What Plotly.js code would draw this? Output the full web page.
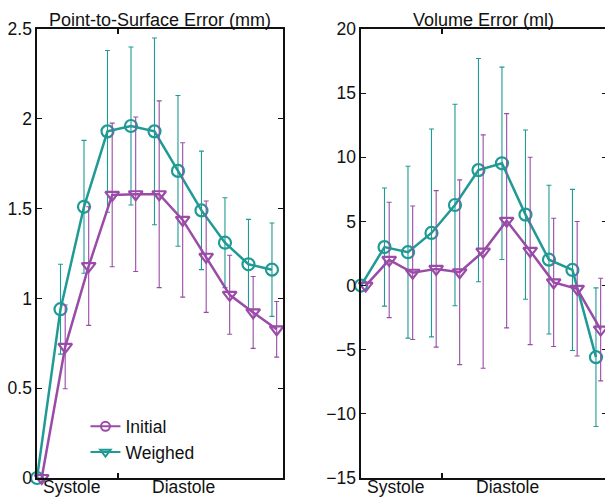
<!DOCTYPE html>
<html><head><meta charset="utf-8">
<script src="https://cdn.plot.ly/plotly-3.0.1.min.js"></script>
<style>html,body{margin:0;padding:0;overflow:hidden;background:#fff}</style>
</head><body><div id="chart" style="width:612px;height:498px"></div>
<script>
const frames = [0,1,2,3,4,5,6,7,8,9,10];
const phaseLabels = ['Systole','Diastole'];
const phaseLabelPos = [1.45, 6.22];
const phaseBoundary = [3.45];
const seriesNames = ['Initial','Weighed'];
const panelTitles = ['Point-to-Surface Error (mm)','Volume Error (ml)'];

// Point-to-surface error (mm)
const p2sWeighedMean = [0,0.94,1.51,1.93,1.96,1.93,1.71,1.49,1.31,1.19,1.16];
const p2sWeighedSD   = [0,0.25,0.37,0.45,0.44,0.52,0.42,0.33,0.25,0.25,0.26];
const p2sInitialMean = [0,0.73,1.18,1.576,1.58,1.58,1.437,1.232,1.02,0.922,0.828];
const p2sInitialSD   = [0,0.233,0.33,0.40,0.43,0.52,0.43,0.31,0.22,0.20,0.155];

// Volume error (ml)
const volWeighedMean = [0,3.0,2.6,4.1,6.28,9.0,9.53,5.53,2.02,1.22,-5.58];
const volWeighedSD   = [0,4.6,6.7,8.1,7.85,8.7,7.5,6.6,5.8,6.28,5.4];
const volInitialMean = [0,2.0,1.0,1.3,1.04,2.65,5.05,2.7,0.25,-0.25,-3.43];
const volInitialSD   = [0,4.5,5.2,6.1,7.2,9.1,8.35,7.3,5.0,5.24,4.0];

const TEAL = '#1f9a94', PURPLE = '#9a4ba7';
const FONT = 'Liberation Sans, Arial, sans-serif';
const dodge = 0.2;
const framesDodged = frames.map(f => f + dodge);

function series(x, y, sd, color, symbol, xa, ya) {
  return {
    x: x, y: y, xaxis: xa, yaxis: ya, type: 'scatter', mode: 'lines+markers',
    showlegend: false, cliponaxis: false,
    line: {color: color, width: 2.5},
    marker: {symbol: symbol, size: 12, color: color, line: {color: color, width: 2.2}},
    error_y: {type: 'data', array: sd, visible: true, color: color, thickness: 1.1, width: 2.5}
  };
}

const traces = [
  series(frames, p2sWeighedMean, p2sWeighedSD, TEAL, 'circle-open', 'x', 'y'),
  series(framesDodged, p2sInitialMean, p2sInitialSD, PURPLE, 'triangle-down-open', 'x', 'y'),
  series(frames, volWeighedMean, volWeighedSD, TEAL, 'circle-open', 'x2', 'y2'),
  series(framesDodged, volInitialMean, volInitialSD, PURPLE, 'triangle-down-open', 'x2', 'y2'),
  {x: [null], y: [null], name: seriesNames[0], mode: 'lines+markers', xaxis: 'x', yaxis: 'y',
   line: {color: PURPLE, width: 2}, marker: {symbol: 'circle-open', size: 9, color: PURPLE, line: {color: PURPLE, width: 2}}},
  {x: [null], y: [null], name: seriesNames[1], mode: 'lines+markers', xaxis: 'x', yaxis: 'y',
   line: {color: TEAL, width: 2}, marker: {symbol: 'triangle-down-open', size: 9, color: TEAL, line: {color: TEAL, width: 2}}}
];

const axCommon = {
  showline: true, mirror: 'ticks', linecolor: '#111', linewidth: 1.6,
  ticks: 'inside', ticklen: 5, tickwidth: 1.2, tickcolor: '#111',
  showgrid: false, zeroline: false, fixedrange: true,
  tickfont: {family: FONT, size: 17.5, color: '#111'}
};

const annotations = [];
[['x','x domain',0], ['x2','x2 domain',1]].forEach(([xr, xd, i]) => {
  annotations.push({xref: xd, yref: 'paper', x: 0.5, y: 1, yanchor: 'bottom', xanchor: 'center',
    text: panelTitles[i], showarrow: false, yshift: -3, font: {family: FONT, size: 18, color: '#111'}});
  phaseLabels.forEach((t, j) => annotations.push({xref: xr, yref: 'paper', x: phaseLabelPos[j], y: 0,
    yanchor: 'top', xanchor: 'center', text: t, showarrow: false, yshift: 3,
    font: {family: FONT, size: 17.5, color: '#111'}}));
});

const layout = {
  width: 612, height: 498,
  margin: {l: 37, r: 5, t: 29, b: 20},
  paper_bgcolor: '#fff', plot_bgcolor: '#fff',
  font: {family: FONT, size: 17.5, color: '#111'},
  xaxis: Object.assign({}, axCommon, {domain: [0, 0.4316], range: [0, 10.47], tickvals: phaseBoundary, ticktext: ['']}),
  yaxis: Object.assign({}, axCommon, {range: [0, 2.5], dtick: 0.5, tick0: 0}),
  xaxis2: Object.assign({}, axCommon, {domain: [0.5684, 1], range: [0, 10.47], tickvals: phaseBoundary, ticktext: [''], anchor: 'y2'}),
  yaxis2: Object.assign({}, axCommon, {range: [-15, 20], dtick: 5, tick0: 0, anchor: 'x2'}),
  showlegend: true,
  legend: {x: 0.085, y: 0.155, xanchor: 'left', yanchor: 'top', bgcolor: 'rgba(0,0,0,0)',
    font: {family: FONT, size: 17.5, color: '#111'}, tracegroupgap: 0},
  annotations: annotations
};

Plotly.newPlot('chart', traces, layout, {displayModeBar: false, staticPlot: true});
</script>
</body></html>
